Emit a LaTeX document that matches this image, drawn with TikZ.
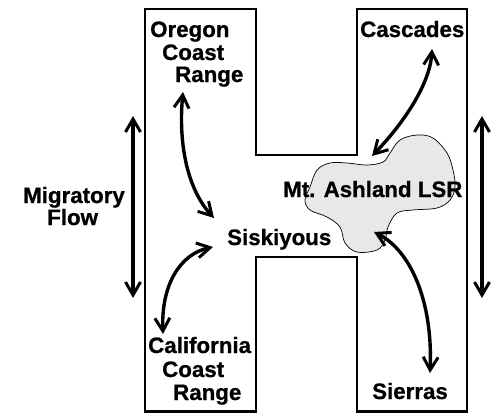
\documentclass[tikz,border=0pt]{standalone}
\usepackage{fontspec}
\setmainfont{Liberation Sans}
\newfontfamily\heavyfont{Liberation Sans Bold}[FakeBold=0.8]
\usetikzlibrary{arrows.meta}
\begin{document}
\begin{tikzpicture}[x=1pt,y=-1pt,
  lbl/.style={anchor=base west,inner sep=0pt,font=\fontsize{22.3}{23}\heavyfont},
  arr/.style={line width=3.4pt,{Straight Barb[length=13pt,width=15pt,line width=3pt]}-{Straight Barb[length=13pt,width=15pt,line width=3pt]}},
  hshape/.style={draw=black,line width=2.2pt,line join=miter},
  blob/.style={draw=black,line width=0.7pt,fill=gray!18}]
\useasboundingbox (0,0) rectangle (496,413);
% H outline
\draw[hshape] (145,9) -- (256,9) -- (256,155) -- (357,155) -- (357,9) -- (467,9)
  -- (467,411.5) -- (357,411.5) -- (357,257) -- (256,257) -- (256,411.5) -- (145,411.5) -- cycle;
% LSR blob
\draw[blob] plot[smooth cycle,tension=0.6] coordinates {
 (390,153) (400,140) (417,135) (433,138) (447,153) (453,170) (455,187) (450,200)
 (437,208) (413,210) (397,213) (388,227) (385,240) (377,250) (357,252) (345,243)
 (340,227) (327,217) (310,210) (305,200) (310,187) (317,170) (330,163) (347,163)
 (367,165) (383,162)};
% labels
\node[lbl] (og1) at (150,37) {Oregon};
\node[lbl] (og2) at (162,60) {Coast};
\node[lbl] (og3) at (175,82) {Range};
\node[lbl] (casc) at (360,37) {Cascades};
\node[lbl] (lsr) at (283,197) {Mt. Ashland LSR};
\node[lbl] (sisk) at (227,245) {Siskiyous};
\node[lbl] (ca1) at (148,353) {California};
\node[lbl] (ca2) at (162,377) {Coast};
\node[lbl] (ca3) at (173,400) {Range};
\node[lbl] (sier) at (372,399) {Sierras};
\node[lbl] (mig1) at (23,203) {Migratory};
\node[lbl] (mig2) at (47,225) {Flow};
% arrow ends
\coordinate (o1) at (183,92);
\coordinate (s1) at (214,218);
\coordinate (s2) at (213,247);
\coordinate (c1) at (163,334);
\coordinate (k1) at (432,49);
\coordinate (b1) at (372,156);
\coordinate (b2) at (374,232);
\coordinate (sr) at (430,373);
\coordinate (lt) at (133,116);
\coordinate (lb) at (133,298);
\coordinate (rt) at (482,116);
\coordinate (rb) at (482,298);
% arrows
\draw[arr] (o1) .. controls (178,145) and (188,190) .. (s1);
\draw[arr] (s2) .. controls (180,254) and (161,285) .. (c1);
\draw[arr] (k1) .. controls (430,85) and (402,125) .. (b1);
\draw[arr] (b2) .. controls (410,250) and (433,300) .. (sr);
\draw[arr] (lt) -- (lb);
\draw[arr] (rt) -- (rb);
\end{tikzpicture}
\end{document}
